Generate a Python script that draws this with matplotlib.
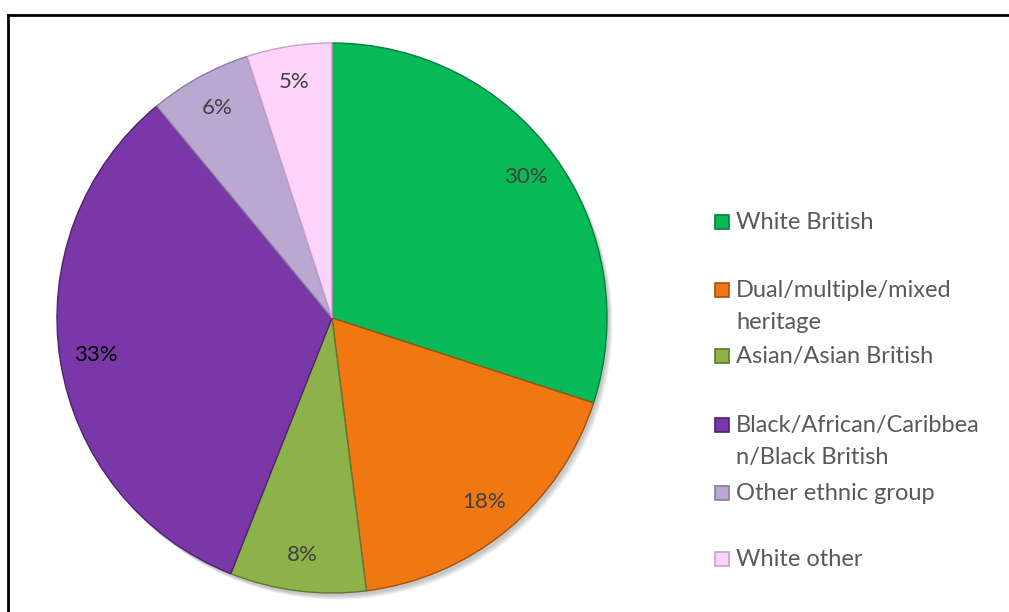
import matplotlib.pyplot as plt
from matplotlib.patches import Rectangle, Circle
from matplotlib.lines import Line2D

# === DONNEES ===
GROUPS = ["White British", "Dual/multiple/mixed\nheritage", "Asian/Asian British",
          "Black/African/Caribbea\nn/Black British", "Other ethnic group", "White other"]
SHARES = [30, 18, 8, 33, 6, 5]
COLORS = ["#08BA57", "#F07712", "#8DB24A", "#7A37A8", "#BBA8D1", "#FDD3FC"]
EDGES = ["#06803C", "#A4510C", "#5E7A2E", "#4F2270", "#8C7AA3", "#C8A0C8"]
LABEL_COLORS = ["#404040", "#404040", "#404040", "#000000", "#404040", "#404040"]
LEGEND_Y = [222, 290, 356, 425, 493, 559]   # pixel rows, first line of each entry
LINE_STEP = 32                              # px between wrapped legend lines

W, H = 1009, 612
fig = plt.figure(figsize=(W / 100, H / 100), dpi=100)
plt.rcParams['font.family'] = ['Lato', 'DejaVu Sans']

# pie axis : center (332, 318) px, radius 275 px
cx, cy, r = 332, 318, 275
ax = fig.add_axes([(cx - r * 1.05) / W, (H - cy - r * 1.05) / H, 2.1 * r / W, 2.1 * r / H])
# soft drop shadow under the whole disc
for k in range(4):
    ax.add_patch(Circle((0.008 + 0.004 * k, -0.012 - 0.004 * k), 1.0, color="black",
                        alpha=0.06, lw=0, zorder=0))
wedges, texts, autotexts = ax.pie(
    SHARES, colors=COLORS, startangle=90, counterclock=False,
    autopct=lambda p: f"{p:.0f}%", pctdistance=0.87, radius=1.0,
    wedgeprops=dict(linewidth=1.0))
for w, ec in zip(wedges, EDGES):
    w.set_edgecolor(ec)
    w.set_zorder(2)
for t, c in zip(autotexts, LABEL_COLORS):
    t.set_color(c)
    t.set_fontsize(16)
    t.set_zorder(3)
ax.set_xlim(-1.05, 1.05)
ax.set_ylim(-1.05, 1.05)
ax.set_aspect('equal')
ax.axis('off')

# legend drawn by hand
for grp, col, ec, y in zip(GROUPS, COLORS, EDGES, LEGEND_Y):
    fig.patches.append(Rectangle((715 / W, 1 - (y + 7) / H), 14 / W, 14 / H,
                                 transform=fig.transFigure, facecolor=col,
                                 edgecolor=ec, linewidth=1.2))
    for i, line in enumerate(grp.split("\n")):
        fig.text(736 / W, 1 - (y + 7 + i * LINE_STEP) / H, line, color="#595959",
                 fontsize=17, va='baseline', ha='left')

# frame, top and left only
fig.add_artist(Line2D([8 / W, 1], [1 - 15 / H, 1 - 15 / H], color="black", lw=2,
                      transform=fig.transFigure))
fig.add_artist(Line2D([8 / W, 8 / W], [0, 1 - 15 / H], color="black", lw=2,
                      transform=fig.transFigure))

fig.savefig("out.png", dpi=100)
